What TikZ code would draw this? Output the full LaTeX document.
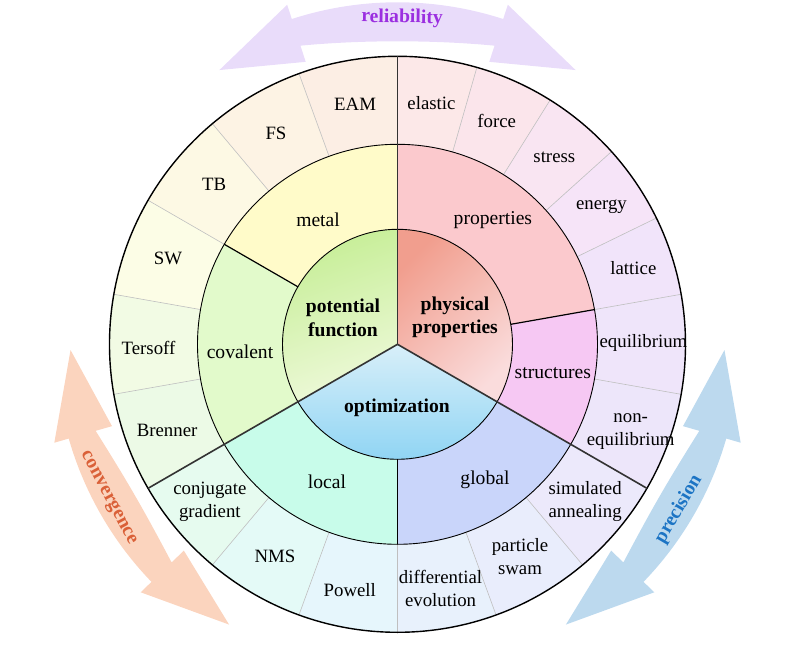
\documentclass[tikz,border=0pt]{standalone}
\usepackage{fontspec}
\setmainfont{Liberation Serif}
\usepackage{tikz}
\definecolor{cEAM}{HTML}{FCEEE4}
\definecolor{cFS}{HTML}{FDF3E4}
\definecolor{cTB}{HTML}{FDF9E4}
\definecolor{cSW}{HTML}{FCFDE6}
\definecolor{cTersoff}{HTML}{F2FBE4}
\definecolor{cBrenner}{HTML}{ECFAE6}
\definecolor{cElastic}{HTML}{FCE8E8}
\definecolor{cForce}{HTML}{FBE5EB}
\definecolor{cStress}{HTML}{F9E5F2}
\definecolor{cEnergy}{HTML}{F6E4F8}
\definecolor{cLattice}{HTML}{F1E4FA}
\definecolor{cEquil}{HTML}{EFE5FA}
\definecolor{cNonEquil}{HTML}{EDE6FA}
\definecolor{cConj}{HTML}{E6FBEF}
\definecolor{cNMS}{HTML}{E4FAF7}
\definecolor{cPowell}{HTML}{E6F6FC}
\definecolor{cDiff}{HTML}{E8F1FC}
\definecolor{cSwarm}{HTML}{E9EDFC}
\definecolor{cAnneal}{HTML}{ECE9FB}
\definecolor{cMetal}{HTML}{FFFBC9}
\definecolor{cCovalent}{HTML}{E2FACB}
\definecolor{cProps}{HTML}{FBC9CD}
\definecolor{cStruct}{HTML}{F6C8F3}
\definecolor{cLocal}{HTML}{C8FCEA}
\definecolor{cGlobal}{HTML}{C9D5FA}
\definecolor{potdark}{HTML}{C6EE96}
\definecolor{potlight}{HTML}{EEF9DA}
\definecolor{physdark}{HTML}{F19E8E}
\definecolor{physlight}{HTML}{FADCDC}
\definecolor{optdark}{HTML}{86D1F3}
\definecolor{optlight}{HTML}{D8EFF9}
\definecolor{relfill}{HTML}{E9DCFA}
\definecolor{convfill}{HTML}{FBD4BE}
\definecolor{precfill}{HTML}{BCD9EE}
\definecolor{relink}{HTML}{9B2FE0}
\definecolor{convink}{HTML}{DA6038}
\definecolor{precink}{HTML}{1C74C4}
\tikzstyle{outer}=[font=\fontsize{9.4}{11.5}\selectfont, align=center, inner sep=0pt]
\tikzstyle{mid}=[font=\fontsize{9.8}{11.5}\selectfont, inner sep=0pt]
\tikzstyle{core}=[font=\fontsize{9.8}{11.7}\selectfont\bfseries, align=center, inner sep=0pt]
\tikzstyle{axislabel}=[font=\fontsize{9.8}{11}\selectfont\bfseries, inner sep=0pt]
\tikzstyle{hairline}=[draw=black!25, line width=0.3pt]
\tikzstyle{spoke}=[draw=black!80, line width=0.8pt]
\tikzstyle{split}=[draw=black, line width=0.6pt]
\tikzstyle{rim}=[draw=black, line width=0.45pt]
\newcommand{\ringcell}[5]{\fill[#5] (#1:#3) arc[start angle=#1, end angle=#2, radius=#3]
  -- (#2:#4) arc[start angle=#2, end angle=#1, radius=#4] -- cycle;}
\newcommand{\bandarrow}[5]{%
  \pgfmathsetmacro{\bandmid}{(#2+#3)/2}%
  \pgfmathsetmacro{\bandhalf}{(#3-#2)/2}%
  \fill[#5] (#1:327) -- (#2:357) -- (#2:342)
  arc[start angle=#2, end angle=#3, radius=342] -- (#3:357) -- (#4:327) -- (#3:297)
  -- plot[domain=#3:#2, samples=25]
     (\x:{303+11*(\x-\bandmid)*(\x-\bandmid)/(\bandhalf*\bandhalf)})
  -- (#2:297) -- cycle;}

\begin{document}
\begin{tikzpicture}[x=0.5pt, y=0.5pt]
\useasboundingbox (-397.5,-302.7) rectangle (389.5,344.3);
% curved arrows
\bandarrow{123}{108}{72}{57}{relfill}
\bandarrow{181}{196}{224}{239}{convfill}
\bandarrow{-1}{-16}{-44}{-59}{precfill}
\node[axislabel, text=relink, rotate=-1] (rel) at (4.5,326.3) {reliability};
\node[axislabel, text=convink, rotate=-62] (conv) at (208:328) {convergence};
\node[axislabel, text=precink, rotate=59.6] (prec) at (-30.4:326) {precision};
% outer ring
\foreach \a/\b/\c in {90/110/cEAM, 110/130/cFS, 130/150/cTB, 150/170/cSW,
  170/190/cTersoff, 190/210/cBrenner, 90/74/cElastic, 74/58/cForce, 58/42/cStress,
  42/26/cEnergy, 26/10/cLattice, 10/-10/cEquil, -10/-30/cNonEquil,
  210/230/cConj, 230/250/cNMS, 250/270/cPowell, 270/290/cDiff, 290/310/cSwarm,
  310/330/cAnneal}
  {\ringcell{\a}{\b}{200}{288}{\c}}
% middle ring
\foreach \a/\b/\c in {90/150/cMetal, 150/210/cCovalent, 90/10/cProps,
  10/-30/cStruct, 210/270/cLocal, 270/330/cGlobal}
  {\ringcell{\a}{\b}{115}{200}{\c}}
% core
\shade[left color=potdark, right color=potlight, shading angle=20]
  (0,0) -- (90:115) arc[start angle=90, end angle=210, radius=115] -- cycle;
\shade[top color=physdark, bottom color=physlight, shading angle=45]
  (0,0) -- (90:115) arc[start angle=90, end angle=-30, radius=115] -- cycle;
\shade[top color=optlight, bottom color=optdark]
  (0,0) -- (210:115) arc[start angle=210, end angle=330, radius=115] -- cycle;
% lines
\foreach \t in {110,130,150,170,190,74,58,42,26,10,-10,230,250,270,290,310}
  {\draw[hairline] (\t:200) -- (\t:288);}
\foreach \t in {150,10,270}
  {\draw[split] (\t:115) -- (\t:200);}
\draw[rim] (0,0) circle[radius=115];
\draw[rim] (0,0) circle[radius=200];
\draw[rim, line width=0.7pt] (0,0) circle[radius=288];
\foreach \t in {90,210,330}
  {\draw[spoke] (0,0) -- (\t:288);}
% labels
\node[core] (pot) at (-54.5,26.3) {potential\\function};
\node[core] (phys) at (57.5,27.3) {physical\\properties};
\node[core] (opt) at (-0.5,-63.7) {optimization};
\node[mid] (metal) at (122.6:147.5) {metal};
\node[mid] (covalent) at (182.8:157.7) {covalent};
\node[mid] (props) at (52.5:156.7) {properties};
\node[mid] (struct) at (-10.5:158) {structures};
\node[mid] (local) at (242.9:154.7) {local};
\node[mid] (global) at (302.8:161.5) {global};
\node[outer] (eam) at (100:244) {EAM};
\node[outer] (fs) at (120:243) {FS};
\node[outer] (tb) at (139:243) {TB};
\node[outer] (sw) at (159.5:245) {SW};
\node[outer] (tersoff) at (180.8:249) {Tersoff};
\node[outer] (brenner) at (200.5:246) {Brenner};
\node[outer] (elastic) at (82:244) {elastic};
\node[outer] (force) at (66:244) {force};
\node[outer] (stress) at (50:244) {stress};
\node[outer] (energy) at (34:246) {energy};
\node[outer] (lattice) at (18:248) {lattice};
\node[outer] (equil) at (0.3:246) {equilibrium};
\node[outer] (nonequil) at (-20.5:249) {non-\\equilibrium};
\node[outer] (conj) at (220:245) {conjugate\\gradient};
\node[outer] (nms) at (240:245) {NMS};
\node[outer] (powell) at (259:250) {Powell};
\node[outer] (diff) at (280:248) {differential\\evolution};
\node[outer] (swarm) at (300:245) {particle\\swam};
\node[outer] (anneal) at (320:245) {simulated\\annealing};
\end{tikzpicture}
\end{document}
